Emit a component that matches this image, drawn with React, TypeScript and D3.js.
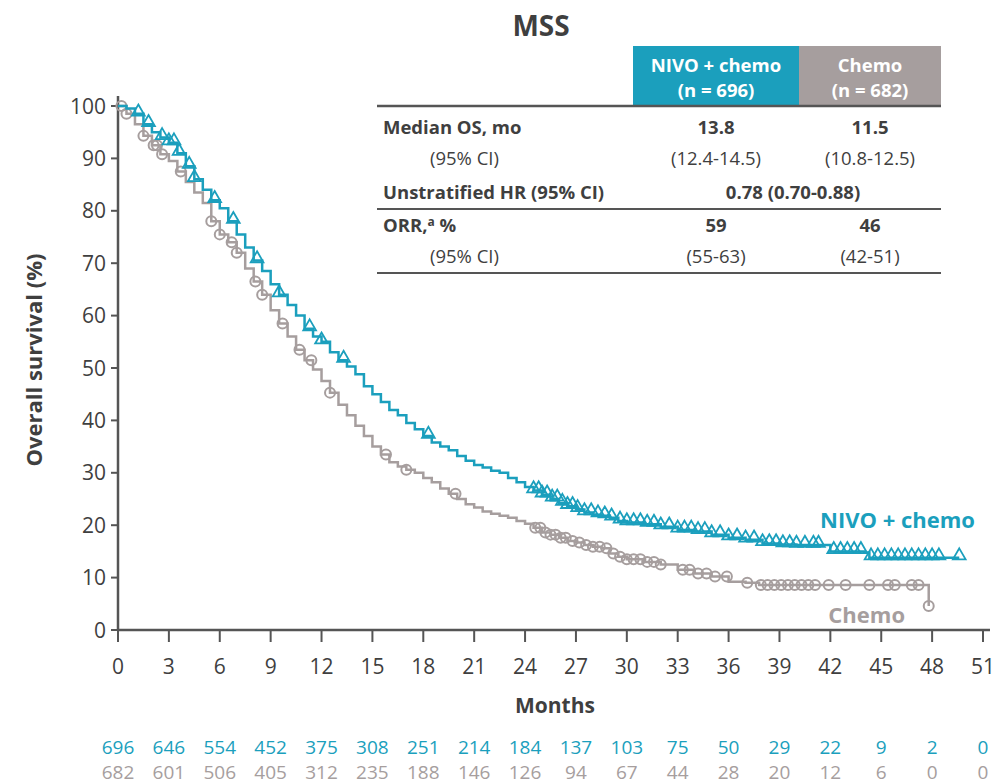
import React from "react";
import * as d3 from "d3";

// ---- Data ----
const nivoTimes = [0, 0.5, 1, 1.5, 2, 2.5, 3, 3.5, 4, 4.5, 5, 5.5, 6, 6.5, 7, 7.5, 8, 8.5, 9, 9.5, 10, 10.5, 11, 11.5, 12, 12.5, 13, 13.5, 14, 14.5, 15, 15.5, 16, 16.5, 17, 17.5, 18, 18.5, 19, 19.5, 20, 20.5, 21, 21.5, 22, 22.5, 23, 23.5, 24, 24.5, 25, 25.5, 26, 26.5, 27, 27.5, 28, 28.5, 29, 29.5, 30, 31, 32, 33, 34, 35, 36, 37, 38, 39, 40, 41, 42, 43, 44, 44.3, 49.6];
const nivoSurv = [100, 99.5, 98.5, 96.5, 95, 94, 93, 91, 88.5, 86, 84, 82, 80.5, 78, 75.5, 73, 70.5, 68.5, 66, 64, 62, 60, 57.5, 56, 55, 53, 51.5, 50.3, 48.8, 46.5, 45, 43.5, 42, 41, 39.5, 38.3, 37, 35.8, 35, 34.3, 33.2, 32.3, 31.5, 31, 30.4, 30, 29, 28.2, 27.3, 26.6, 25.8, 25, 24.2, 23.6, 23, 22.4, 22, 21.8, 21.4, 20.8, 20.5, 20.2, 19.7, 19.1, 18.8, 18.2, 17.6, 17.2, 16.5, 16.3, 16.2, 16.2, 15, 15, 14.8, 13.8, 13.8];
const nivoCensor = [1.2, 1.8, 2.6, 3.0, 3.3, 3.6, 4.2, 4.5, 5.7, 6.8, 8.2, 9.5, 11.3, 12.0, 13.3, 18.3, 24.5, 24.8, 25.0, 25.3, 25.6, 25.9, 26.2, 26.5, 26.8, 27.1, 27.5, 27.9, 28.3, 28.7, 29.1, 29.6, 30.0, 30.4, 30.8, 31.2, 31.6, 32.0, 32.5, 33.0, 33.4, 33.8, 34.2, 34.6, 35.0, 35.5, 36.0, 36.5, 37.0, 37.5, 38.0, 38.4, 38.8, 39.2, 39.6, 40.0, 40.5, 41.0, 41.3, 42.2, 42.6, 43.0, 43.4, 43.8, 44.4, 44.8, 45.2, 45.6, 46.0, 46.4, 46.8, 47.2, 47.6, 48.0, 48.4, 49.6];

const chemoTimes = [0, 0.5, 1, 1.5, 2, 2.5, 3, 3.5, 4, 4.5, 5, 5.5, 6, 6.5, 7, 7.5, 8, 8.5, 9, 9.5, 10, 10.5, 11, 11.5, 12, 12.5, 13, 13.5, 14, 14.5, 15, 15.5, 16, 16.5, 17, 17.5, 18, 18.5, 19, 19.5, 20, 20.5, 21, 21.5, 22, 22.5, 23, 23.5, 24, 24.5, 25, 25.5, 26, 26.5, 27, 27.5, 28, 28.5, 29, 29.5, 30, 31, 32, 33, 34, 35, 36, 37, 37.8, 47.8, 47.8];
const chemoSurv = [100, 98.5, 96.5, 94.3, 92.5, 90.8, 89.5, 87.5, 85.5, 83.5, 81.5, 78, 75.5, 74, 72, 69, 66.5, 64, 61, 58.5, 56, 53.5, 51.5, 49.7, 47.5, 45.3, 43, 41, 39, 37, 35, 33.5, 32, 31.2, 30.6, 30, 29, 28.2, 27, 26, 25, 24, 23.4, 22.6, 22.2, 21.8, 21.4, 20.8, 20.3, 19.5, 18.6, 18.2, 17.6, 17, 16.7, 16.2, 15.9, 15.6, 14.6, 14, 13.5, 13, 12.5, 11.5, 10.8, 10.2, 9.2, 9, 8.6, 8.6, 4.6];
const chemoCensor = [0.2, 0.5, 1.5, 2.1, 2.3, 2.6, 3.7, 5.5, 6.0, 6.7, 7.0, 8.1, 8.5, 9.7, 10.7, 11.4, 12.5, 15.8, 17.0, 19.9, 24.6, 24.9, 25.2, 25.5, 25.8, 26.1, 26.4, 26.8, 27.2, 27.6, 28.0, 28.4, 28.8, 29.2, 29.6, 30.0, 30.4, 30.8, 31.2, 31.6, 32.0, 33.3, 33.7, 34.2, 34.7, 35.2, 35.9, 37.1, 37.9, 38.3, 38.7, 39.1, 39.5, 39.9, 40.3, 40.7, 41.1, 41.9, 42.9, 44.3, 45.4, 45.8, 46.8, 47.2, 47.8];

const xTicks = [0, 3, 6, 9, 12, 15, 18, 21, 24, 27, 30, 33, 36, 39, 42, 45, 48, 51];
const yTicks = [0, 10, 20, 30, 40, 50, 60, 70, 80, 90, 100];
const nivoRisk = [696, 646, 554, 452, 375, 308, 251, 214, 184, 137, 103, 75, 50, 29, 22, 9, 2, 0];
const chemoRisk = [682, 601, 506, 405, 312, 235, 188, 146, 126, 94, 67, 44, 28, 20, 12, 6, 0, 0];

const tableRows = [
  { label: "Median OS, mo", bold: true, nivo: "13.8", chemo: "11.5", span: "" },
  { label: "(95% CI)", bold: false, nivo: "(12.4-14.5)", chemo: "(10.8-12.5)", span: "" },
  { label: "Unstratified HR (95% CI)", bold: true, nivo: "", chemo: "", span: "0.78 (0.70-0.88)" },
  { label: "ORR,", bold: true, nivo: "59", chemo: "46", span: "" },
  { label: "(95% CI)", bold: false, nivo: "(55-63)", chemo: "(42-51)", span: "" },
];

const TEAL = "#1b9fbd";
const GRAY = "#a69e9e";
const TXT = "#3f3f3f";
const AXIS = "#555";
const FONT = "'Open Sans', Lato, sans-serif";

function survAt(times: number[], vals: number[], t: number) {
  let v = vals[0];
  for (let i = 0; i < times.length; i++) {
    if (times[i] <= t) v = vals[i];
    else break;
  }
  return v;
}

export default function App() {
  const x = d3.scaleLinear().domain([0, 51]).range([118, 983]);
  const y = d3.scaleLinear().domain([0, 100]).range([630, 106]);
  const line = d3
    .line<[number, number]>()
    .x((d) => x(d[0]))
    .y((d) => y(d[1]))
    .curve(d3.curveStepAfter);

  const nivoPts: [number, number][] = nivoTimes.map((t, i) => [t, nivoSurv[i]]);
  const chemoPts: [number, number][] = chemoTimes.map((t, i) => [t, chemoSurv[i]]);

  const tri = d3.symbol().type(d3.symbolTriangle).size(70)();

  const rowY = [134, 165, 199, 232, 263];
  const colN = 716;
  const colC = 870;

  return (
    <svg
      width={1004}
      height={784}
      style={{ position: "absolute", left: 0, top: 0, background: "#fff" }}
      fontFamily={FONT}
    >
      {/* Title */}
      <text x={541} y={36} textAnchor="middle" fontSize={28} fontWeight={700} fill={TXT}>
        MSS
      </text>

      {/* Table header */}
      <rect x={633} y={46} width={166} height={59} fill={TEAL} />
      <rect x={799} y={46} width={142} height={59} fill={GRAY} />
      <text x={716} y={72} textAnchor="middle" fontSize={18.5} fontWeight={700} fill="#fff">NIVO + chemo</text>
      <text x={716} y={97} textAnchor="middle" fontSize={18.5} fontWeight={700} fill="#fff">(n = 696)</text>
      <text x={870} y={72} textAnchor="middle" fontSize={18.5} fontWeight={700} fill="#fff">Chemo</text>
      <text x={870} y={97} textAnchor="middle" fontSize={18.5} fontWeight={700} fill="#fff">(n = 682)</text>
      <line x1={377} x2={941} y1={106} y2={106} stroke={AXIS} strokeWidth={2.5} />
      <line x1={377} x2={941} y1={209} y2={209} stroke={AXIS} strokeWidth={2} />
      <line x1={377} x2={941} y1={273} y2={273} stroke={AXIS} strokeWidth={2} />
      {tableRows.map((r, i) => (
        <g key={i} fontSize={18.5} fill={TXT}>
          <text x={r.bold ? 383 : 430} y={rowY[i]} fontWeight={r.bold ? 700 : 400}>
            {r.label}
            {i === 3 ? (
              <>
                <tspan fontSize={12} dy={-6}>a</tspan>
                <tspan dy={6}> %</tspan>
              </>
            ) : null}
          </text>
          {r.span ? (
            <text x={793} y={rowY[i]} textAnchor="middle" fontWeight={700}>{r.span}</text>
          ) : (
            <>
              <text x={colN} y={rowY[i]} textAnchor="middle" fontWeight={r.bold ? 700 : 400}>{r.nivo}</text>
              <text x={colC} y={rowY[i]} textAnchor="middle" fontWeight={r.bold ? 700 : 400}>{r.chemo}</text>
            </>
          )}
        </g>
      ))}

      {/* Axes */}
      <line x1={118} x2={118} y1={96} y2={631} stroke={AXIS} strokeWidth={2.5} />
      <line x1={117} x2={990} y1={630} y2={630} stroke={AXIS} strokeWidth={2.5} />
      {yTicks.map((t) => (
        <g key={"y" + t}>
          <line x1={111} x2={118} y1={y(t)} y2={y(t)} stroke={AXIS} strokeWidth={2} />
          <text x={106} y={y(t) + 7.5} textAnchor="end" fontSize={21} fill={TXT}>{t}</text>
        </g>
      ))}
      {xTicks.map((t) => (
        <g key={"x" + t}>
          <line x1={x(t)} x2={x(t)} y1={630} y2={642} stroke={AXIS} strokeWidth={2} />
          <text x={x(t)} y={674} textAnchor="middle" fontSize={21} fill={TXT}>{t}</text>
        </g>
      ))}
      <text x={555} y={713} textAnchor="middle" fontSize={21} fontWeight={700} fill={TXT}>Months</text>
      <text
        transform="translate(42,360) rotate(-90)"
        textAnchor="middle"
        fontSize={22}
        fontWeight={700}
        fill={TXT}
      >
        Overall survival (%)
      </text>

      {/* Curves */}
      <path d={line(chemoPts) || ""} fill="none" stroke={GRAY} strokeWidth={2.5} />
      {chemoCensor.map((t, i) => (
        <circle key={"cc" + i} cx={x(t)} cy={y(survAt(chemoTimes, chemoSurv, t))} r={5} fill="none" stroke={GRAY} strokeWidth={2} />
      ))}
      <path d={line(nivoPts) || ""} fill="none" stroke={TEAL} strokeWidth={2.5} />
      {nivoCensor.map((t, i) => (
        <path
          key={"nc" + i}
          d={tri || ""}
          transform={`translate(${x(t)},${y(survAt(nivoTimes, nivoSurv, t)) - 2})`}
          fill="none"
          stroke={TEAL}
          strokeWidth={1.8}
        />
      ))}

      {/* Curve labels */}
      <text x={975} y={528} textAnchor="end" fontSize={22} fontWeight={700} fill={TEAL}>NIVO + chemo</text>
      <text x={905} y={623} textAnchor="end" fontSize={22} fontWeight={700} fill={GRAY}>Chemo</text>

      {/* Numbers at risk */}
      {nivoRisk.map((n, i) => (
        <text key={"nr" + i} x={x(xTicks[i])} y={754} textAnchor="middle" fontSize={19} fill={TEAL}>{n}</text>
      ))}
      {chemoRisk.map((n, i) => (
        <text key={"cr" + i} x={x(xTicks[i])} y={779} textAnchor="middle" fontSize={19} fill={GRAY}>{n}</text>
      ))}
    </svg>
  );
}
